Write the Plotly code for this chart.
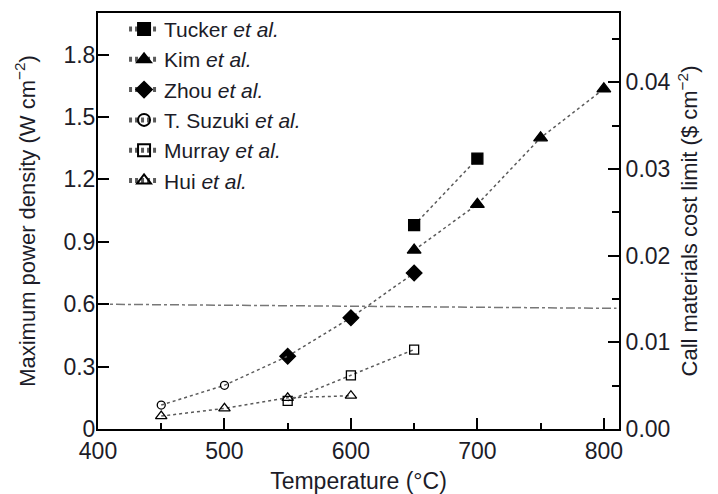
import plotly.graph_objects as go

# Data (temperature in °C, power density in W cm^-2)
tucker_x = [650, 700]
tucker_y = [0.98, 1.30]
kim_x = [650, 700, 750, 800]
kim_y = [0.86, 1.08, 1.40, 1.635]
zhou_x = [550, 600, 650]
zhou_y = [0.35, 0.535, 0.75]
suzuki_x = [450, 500, 550]
suzuki_y = [0.115, 0.21, 0.35]
murray_x = [550, 600, 650]
murray_y = [0.135, 0.258, 0.382]
hui_x = [450, 500, 550, 600]
hui_y = [0.062, 0.099, 0.15, 0.16]
limit_x = [400, 810]
limit_y = [0.60, 0.58]

x_ticks = [400, 500, 600, 700, 800]
y_ticks = [0, 0.3, 0.6, 0.9, 1.2, 1.5, 1.8]
y_ticktext = ["0", "0.3", "0.6", "0.9", "1.2", "1.5", "1.8"]
y2_ticks = [0, 0.01, 0.02, 0.03, 0.04]
y2_ticktext = ["0.00", "0.01", "0.02", "0.03", "0.04"]

FONT = "Liberation Sans, Arial, sans-serif"
TXT = "#1c1c28"
LINE_COLOR = "#5a5a5a"

series = [
    ("Tucker", tucker_x, tucker_y, "square", "black", 11),
    ("Kim", kim_x, kim_y, "triangle-up", "black", 12),
    ("Zhou", zhou_x, zhou_y, "diamond", "black", 12),
    ("T. Suzuki", suzuki_x, suzuki_y, "circle-open", "black", 8),
    ("Murray", murray_x, murray_y, "square-open", "black", 9),
    ("Hui", hui_x, hui_y, "triangle-up-open", "black", 10),
]

fig = go.Figure()

fig.add_trace(go.Scatter(
    x=limit_x, y=limit_y, mode="lines", showlegend=False,
    line=dict(color="#777777", width=1.5, dash="dashdot"),
))

for name, xs, ys, sym, col, sz in series:
    fig.add_trace(go.Scatter(
        x=xs, y=ys, mode="lines+markers",
        name=f"{name} <i>et al.</i>",
        line=dict(color=LINE_COLOR, width=1.5, dash="3px,3px"),
        marker=dict(symbol=sym, size=sz, color=col,
                    line=dict(color="black", width=1.3)),
    ))

# dummy trace for the secondary axis
fig.add_trace(go.Scatter(x=[400], y=[0], yaxis="y2", mode="markers",
                         marker=dict(opacity=0), showlegend=False,
                         hoverinfo="skip"))

axis_common = dict(
    showline=True, linecolor="black", linewidth=2, showgrid=False,
    zeroline=False, ticks="inside", tickcolor="black", tickwidth=1.5,
    ticklen=11, tickfont=dict(family=FONT, size=23, color=TXT),
    automargin=False,
)

fig.update_layout(
    width=718, height=494,
    margin=dict(l=98, r=99, t=9, b=65),
    paper_bgcolor="white", plot_bgcolor="white",
    font=dict(family=FONT, size=22, color=TXT),
    xaxis=dict(
        **axis_common, range=[400, 812], tickvals=x_ticks,
        mirror=True,
        minor=dict(ticks="inside", ticklen=6, tickcolor="black",
                   tickwidth=1.5, dtick=50, tick0=400, showgrid=False),
        title=dict(text="Temperature (°C)", font=dict(family=FONT, size=23, color=TXT),
                   standoff=11),
    ),
    yaxis=dict(
        **axis_common, range=[0, 2.0], tickvals=y_ticks, ticktext=y_ticktext,
        ticklabelstandoff=-4,
        title=dict(text="Maximum power density (W cm<sup>−2</sup>)",
                   font=dict(family=FONT, size=22, color=TXT), standoff=22),
    ),
    yaxis2=dict(
        **axis_common, range=[0, 0.048], overlaying="y", side="right",
        tickvals=y2_ticks, ticktext=y2_ticktext,
        minor=dict(ticks="inside", ticklen=7, tickcolor="black",
                   tickwidth=1.5, dtick=0.005, tick0=0, showgrid=False),
        title=dict(text="Call materials cost limit ($ cm<sup>−2</sup>)",
                   font=dict(family=FONT, size=22, color=TXT), standoff=12),
    ),
    legend=dict(
        x=0.05, y=1.01, xanchor="left", yanchor="top",
        bgcolor="rgba(0,0,0,0)", font=dict(family=FONT, size=21, color=TXT),
        tracegroupgap=0, itemsizing="constant",
    ),
)

fig.write_html("out.html")
